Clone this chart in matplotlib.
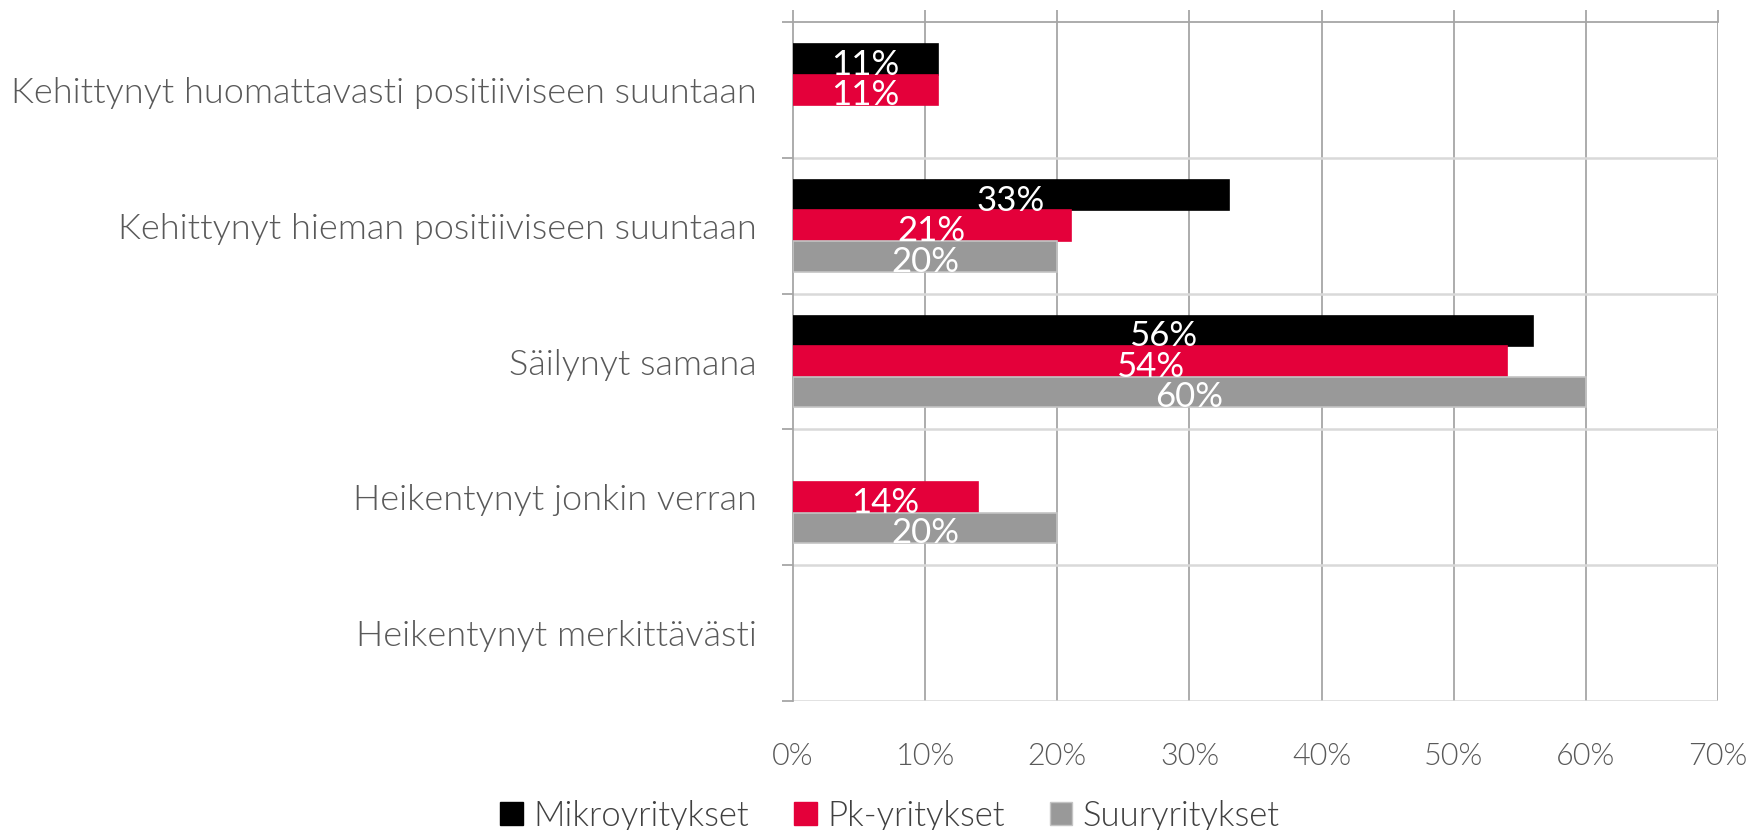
import numpy as np
import matplotlib.pyplot as plt
from matplotlib.patches import Patch

# Data
categories = [
    "Kehittynyt huomattavasti positiiviseen suuntaan",
    "Kehittynyt hieman positiiviseen suuntaan",
    "Säilynyt samana",
    "Heikentynyt jonkin verran",
    "Heikentynyt merkittävästi",
]
series_names = ["Mikroyritykset", "Pk-yritykset", "Suuryritykset"]
mikro = [0.11, 0.33, 0.56, 0.00, 0.00]
pk = [0.11, 0.21, 0.54, 0.14, 0.00]
suur = [0.00, 0.20, 0.60, 0.20, 0.00]
xticks = [0.0, 0.1, 0.2, 0.3, 0.4, 0.5, 0.6, 0.7]

colors = ["#000000", "#E4003A", "#999999"]
edges = ["#000000", "#E4003A", "#C4C4C4"]

plt.rcParams['font.family'] = ['Lato', 'DejaVu Sans']
plt.rcParams['font.weight'] = 300

fig = plt.figure(figsize=(17.51, 8.30), dpi=100)
ax = fig.add_axes([793 / 1751, 129 / 830, 925 / 1751, 679 / 830])

y = np.arange(len(categories))
h = 0.225
for k, vals in enumerate([mikro, pk, suur]):
    off = (k - 1) * h
    lws = [1.2 if v > 0 else 0 for v in vals]
    ax.barh(y + off, vals, height=h, color=colors[k], edgecolor=edges[k],
            linewidth=lws, zorder=3)
    for yi, v in zip(y, vals):
        if v > 0:
            ax.text(v / 2, yi + off + 0.04, f"{round(v * 100)}%", color='white',
                    ha='center', va='center', fontsize=25, fontweight='normal',
                    zorder=4)

ax.set_xlim(0, 0.7)
ax.set_ylim(4.5, -0.5)

# grid
for x in xticks[1:]:
    ax.axvline(x, color='#A6A6A6', lw=1.3, zorder=1)
for b in np.arange(0.5, 4.6, 1):
    ax.axhline(b, color='#D9D9D9', lw=1.8, zorder=1)

ax.spines['right'].set_visible(False)
ax.spines['bottom'].set_visible(False)
ax.spines['top'].set_color('#A6A6A6')
ax.spines['top'].set_linewidth(1.3)
ax.spines['left'].set_color('#A6A6A6')
ax.spines['left'].set_linewidth(1.3)

ax.set_xticks(xticks)
ax.set_xticklabels([f"{round(t * 100)}%" for t in xticks])
ax.tick_params(axis='x', top=True, bottom=False, labeltop=False, labelbottom=True,
               direction='out', length=8.5, width=1.3, color='#A6A6A6',
               labelsize=22, labelcolor='#595959', pad=21)

ax.set_yticks(np.arange(-0.5, 4.6, 1))
ax.set_yticklabels([])
ax.set_yticks(y, minor=True)
ax.set_yticklabels(categories, minor=True)
ax.tick_params(axis='y', which='major', direction='out', length=8, width=1.3,
               color='#A6A6A6')
ax.tick_params(axis='y', which='minor', length=0, labelsize=26,
               labelcolor='#595959', pad=26)

handles = [Patch(facecolor=c, edgecolor=e) for c, e in zip(colors, edges)]
fig.legend(handles, series_names, loc='center', bbox_to_anchor=(890 / 1751, 14 / 830),
           ncol=3, frameon=False, fontsize=25, handlelength=0.65, handleheight=0.65,
           handletextpad=0.3, columnspacing=1.3, labelcolor='#404040',
           borderpad=0, borderaxespad=0)

fig.savefig('out.png', dpi=100)
